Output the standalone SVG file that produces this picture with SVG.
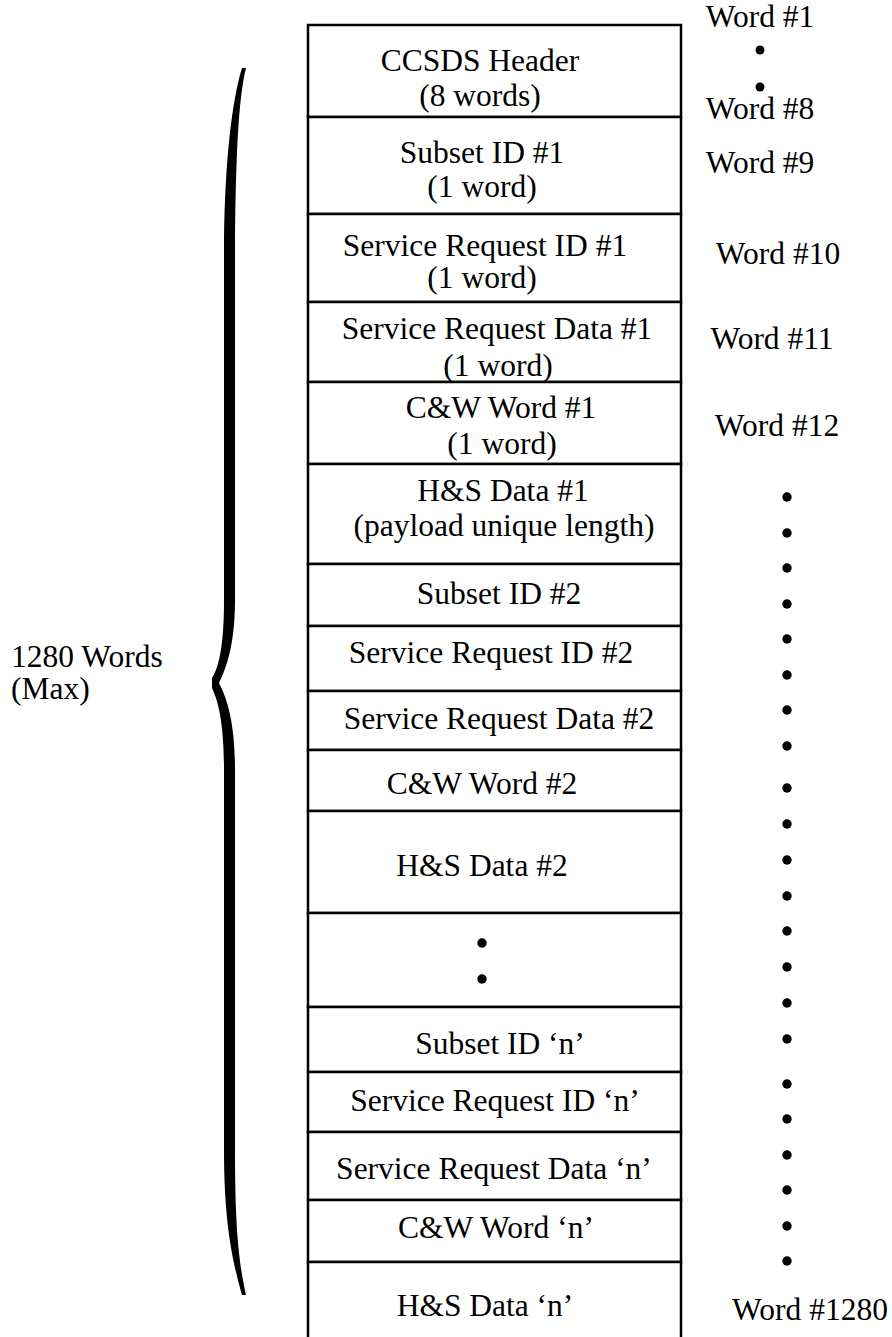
<svg xmlns="http://www.w3.org/2000/svg" width="892" height="1337" viewBox="0 0 892 1337" font-family="Liberation Serif, DejaVu Serif, serif">
<style>
text{font-family:"Liberation Serif","DejaVu Serif",serif;font-size:31.5px;fill:#000;text-anchor:middle}
.l{text-anchor:start}
.cell{fill:#fff;stroke:#000;stroke-width:2.5}
.dot{fill:#000}
</style>
<rect width="892" height="1337" fill="#fff"/>
<g id="brace">
<path d="M246 68 C238 100 236 160 235 240 L235 600 C235 640 228 665 219 683 C228 700 235 725 235 770 L235 1150 C235 1220 238 1260 246 1295 L242 1295 C232 1260 224 1220 224 1150 L224 770 C224 730 220 705 212 688 L212 678 C220 665 224 640 224 600 L224 240 C225 160 232 100 242 68 Z" fill="#000"/>
</g>
<g id="label-total">
<text class="l" x="11" y="667">1280 Words</text>
<text class="l" x="11" y="699">(Max)</text>
</g>
<g id="packet">
<g id="n1"><rect class="cell" x="308" y="25" width="373" height="92"/><text x="480" y="71">CCSDS Header</text><text x="480" y="106">(8 words)</text></g>
<g id="n2"><rect class="cell" x="308" y="117" width="373" height="97"/><text x="482" y="163">Subset ID #1</text><text x="482" y="197">(1 word)</text></g>
<g id="n3"><rect class="cell" x="308" y="214" width="373" height="88"/><text x="485" y="256">Service Request ID #1</text><text x="482" y="288">(1 word)</text></g>
<g id="n4"><rect class="cell" x="308" y="302" width="373" height="80"/><text x="497" y="339">Service Request Data #1</text><text x="498" y="376">(1 word)</text></g>
<g id="n5"><rect class="cell" x="308" y="382" width="373" height="82"/><text x="501" y="418">C&amp;W Word #1</text><text x="502" y="454">(1 word)</text></g>
<g id="n6"><rect class="cell" x="308" y="464" width="373" height="100"/><text x="503" y="501">H&amp;S Data #1</text><text x="504" y="536">(payload unique length)</text></g>
<g id="n7"><rect class="cell" x="308" y="564" width="373" height="62"/><text x="499" y="604">Subset ID #2</text></g>
<g id="n8"><rect class="cell" x="308" y="626" width="373" height="65"/><text x="491" y="663">Service Request ID #2</text></g>
<g id="n9"><rect class="cell" x="308" y="691" width="373" height="59"/><text x="499" y="729">Service Request Data #2</text></g>
<g id="n10"><rect class="cell" x="308" y="750" width="373" height="61"/><text x="482" y="794">C&amp;W Word #2</text></g>
<g id="n11"><rect class="cell" x="308" y="811" width="373" height="102"/><text x="482" y="876">H&amp;S Data #2</text></g>
<g id="n12"><rect class="cell" x="308" y="913" width="373" height="94"/><circle class="dot" cx="482" cy="943" r="4.7"/><circle class="dot" cx="482" cy="979" r="4.7"/></g>
<g id="n13"><rect class="cell" x="308" y="1007" width="373" height="65"/><text x="500" y="1054">Subset ID ‘n’</text></g>
<g id="n14"><rect class="cell" x="308" y="1072" width="373" height="60"/><text x="495" y="1111">Service Request ID ‘n’</text></g>
<g id="n15"><rect class="cell" x="308" y="1132" width="373" height="68"/><text x="494" y="1179">Service Request Data ‘n’</text></g>
<g id="n16"><rect class="cell" x="308" y="1200" width="373" height="62"/><text x="496" y="1238">C&amp;W Word ‘n’</text></g>
<g id="n17"><rect class="cell" x="308" y="1262" width="373" height="90"/><text x="485" y="1316">H&amp;S Data ‘n’</text></g>
</g>
<g id="word-labels">
<text x="760" y="27">Word #1</text>
<circle class="dot" cx="760" cy="50" r="4.5"/>
<circle class="dot" cx="760" cy="87" r="4.5"/>
<text x="760" y="119">Word #8</text>
<text x="760" y="173">Word #9</text>
<text x="778" y="264">Word #10</text>
<text x="772" y="349">Word #11</text>
<text x="777" y="436">Word #12</text>
<g class="dot">
<circle cx="787" cy="497" r="4.7"/><circle cx="787" cy="533" r="4.7"/><circle cx="787" cy="568" r="4.7"/><circle cx="787" cy="604" r="4.7"/><circle cx="787" cy="639" r="4.7"/><circle cx="787" cy="675" r="4.7"/><circle cx="787" cy="710" r="4.7"/><circle cx="787" cy="746" r="4.7"/><circle cx="787" cy="788" r="4.7"/><circle cx="787" cy="824" r="4.7"/><circle cx="787" cy="860" r="4.7"/><circle cx="787" cy="896" r="4.7"/><circle cx="787" cy="931" r="4.7"/><circle cx="787" cy="967" r="4.7"/><circle cx="787" cy="1003" r="4.7"/><circle cx="787" cy="1039" r="4.7"/><circle cx="787" cy="1084" r="4.7"/><circle cx="787" cy="1119" r="4.7"/><circle cx="787" cy="1155" r="4.7"/><circle cx="787" cy="1190" r="4.7"/><circle cx="787" cy="1226" r="4.7"/><circle cx="787" cy="1261" r="4.7"/>
</g>
<text x="810" y="1320">Word #1280</text>
</g>
</svg>
